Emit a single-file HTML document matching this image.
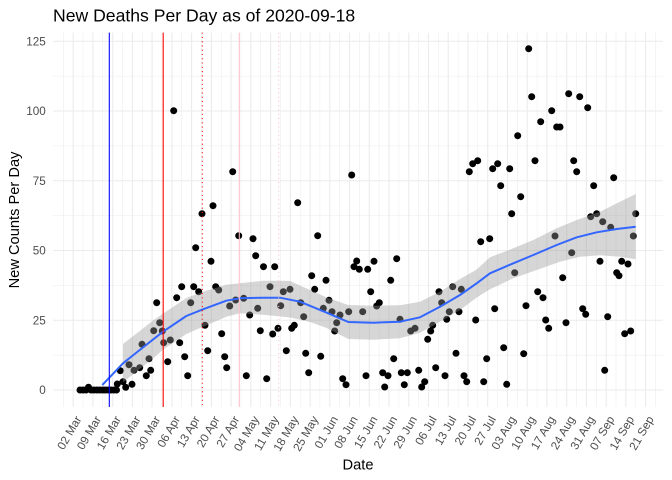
<!DOCTYPE html>
<html><head><meta charset="utf-8"><style>
html,body{margin:0;padding:0;background:#fff;}
svg{display:block;font-family:"Liberation Sans",Arial,sans-serif;}
</style></head><body>
<svg width="672" height="480" viewBox="0 0 672 480" xmlns="http://www.w3.org/2000/svg">
<rect width="672" height="480" fill="#fff"/>
<text x="53" y="21.7" font-size="17.6" fill="#000">New Deaths Per Day as of 2020-09-18</text>
<g stroke="#EBEBEB" stroke-width="0.53">
<line x1="53" x2="663" y1="355.1" y2="355.1"/><line x1="53" x2="663" y1="285.4" y2="285.4"/><line x1="53" x2="663" y1="215.6" y2="215.6"/><line x1="53" x2="663" y1="145.9" y2="145.9"/><line x1="53" x2="663" y1="76.1" y2="76.1"/>
<line x1="63.3" x2="63.3" y1="32.6" y2="407"/><line x1="83" x2="83" y1="32.6" y2="407"/><line x1="102.8" x2="102.8" y1="32.6" y2="407"/><line x1="122.5" x2="122.5" y1="32.6" y2="407"/><line x1="142.3" x2="142.3" y1="32.6" y2="407"/><line x1="162" x2="162" y1="32.6" y2="407"/><line x1="181.7" x2="181.7" y1="32.6" y2="407"/><line x1="201.5" x2="201.5" y1="32.6" y2="407"/><line x1="221.2" x2="221.2" y1="32.6" y2="407"/><line x1="241" x2="241" y1="32.6" y2="407"/><line x1="260.7" x2="260.7" y1="32.6" y2="407"/><line x1="280.4" x2="280.4" y1="32.6" y2="407"/><line x1="300.2" x2="300.2" y1="32.6" y2="407"/><line x1="319.9" x2="319.9" y1="32.6" y2="407"/><line x1="339.7" x2="339.7" y1="32.6" y2="407"/><line x1="359.4" x2="359.4" y1="32.6" y2="407"/><line x1="379.1" x2="379.1" y1="32.6" y2="407"/><line x1="398.9" x2="398.9" y1="32.6" y2="407"/><line x1="418.6" x2="418.6" y1="32.6" y2="407"/><line x1="438.4" x2="438.4" y1="32.6" y2="407"/><line x1="458.1" x2="458.1" y1="32.6" y2="407"/><line x1="477.8" x2="477.8" y1="32.6" y2="407"/><line x1="497.6" x2="497.6" y1="32.6" y2="407"/><line x1="517.3" x2="517.3" y1="32.6" y2="407"/><line x1="537.1" x2="537.1" y1="32.6" y2="407"/><line x1="556.8" x2="556.8" y1="32.6" y2="407"/><line x1="576.5" x2="576.5" y1="32.6" y2="407"/><line x1="596.3" x2="596.3" y1="32.6" y2="407"/><line x1="616" x2="616" y1="32.6" y2="407"/><line x1="635.8" x2="635.8" y1="32.6" y2="407"/><line x1="655.5" x2="655.5" y1="32.6" y2="407"/>
</g>
<g stroke="#EBEBEB" stroke-width="1.07">
<line x1="53" x2="663" y1="390" y2="390"/><line x1="53" x2="663" y1="320.25" y2="320.25"/><line x1="53" x2="663" y1="250.5" y2="250.5"/><line x1="53" x2="663" y1="180.75" y2="180.75"/><line x1="53" x2="663" y1="111" y2="111"/><line x1="53" x2="663" y1="41.25" y2="41.25"/>
<line x1="73.2" x2="73.2" y1="32.6" y2="407"/><line x1="92.9" x2="92.9" y1="32.6" y2="407"/><line x1="112.7" x2="112.7" y1="32.6" y2="407"/><line x1="132.4" x2="132.4" y1="32.6" y2="407"/><line x1="152.1" x2="152.1" y1="32.6" y2="407"/><line x1="171.9" x2="171.9" y1="32.6" y2="407"/><line x1="191.6" x2="191.6" y1="32.6" y2="407"/><line x1="211.4" x2="211.4" y1="32.6" y2="407"/><line x1="231.1" x2="231.1" y1="32.6" y2="407"/><line x1="250.8" x2="250.8" y1="32.6" y2="407"/><line x1="270.6" x2="270.6" y1="32.6" y2="407"/><line x1="290.3" x2="290.3" y1="32.6" y2="407"/><line x1="310.1" x2="310.1" y1="32.6" y2="407"/><line x1="329.8" x2="329.8" y1="32.6" y2="407"/><line x1="349.5" x2="349.5" y1="32.6" y2="407"/><line x1="369.3" x2="369.3" y1="32.6" y2="407"/><line x1="389" x2="389" y1="32.6" y2="407"/><line x1="408.8" x2="408.8" y1="32.6" y2="407"/><line x1="428.5" x2="428.5" y1="32.6" y2="407"/><line x1="448.2" x2="448.2" y1="32.6" y2="407"/><line x1="468" x2="468" y1="32.6" y2="407"/><line x1="487.7" x2="487.7" y1="32.6" y2="407"/><line x1="507.5" x2="507.5" y1="32.6" y2="407"/><line x1="527.2" x2="527.2" y1="32.6" y2="407"/><line x1="546.9" x2="546.9" y1="32.6" y2="407"/><line x1="566.7" x2="566.7" y1="32.6" y2="407"/><line x1="586.4" x2="586.4" y1="32.6" y2="407"/><line x1="606.2" x2="606.2" y1="32.6" y2="407"/><line x1="625.9" x2="625.9" y1="32.6" y2="407"/><line x1="645.6" x2="645.6" y1="32.6" y2="407"/>
</g>
<g fill="#000">
<circle cx="80" cy="390" r="3.5"/><circle cx="83" cy="390" r="3.5"/><circle cx="86" cy="390" r="3.5"/><circle cx="88.5" cy="387.2" r="3.5"/><circle cx="91" cy="390" r="3.5"/><circle cx="94" cy="390" r="3.5"/><circle cx="97" cy="390" r="3.5"/><circle cx="100" cy="390" r="3.5"/><circle cx="103" cy="390" r="3.5"/><circle cx="105.5" cy="390" r="3.5"/><circle cx="108.5" cy="390" r="3.5"/><circle cx="111" cy="390" r="3.5"/><circle cx="114" cy="390" r="3.5"/><circle cx="116.5" cy="390" r="3.5"/>
<circle cx="173.7" cy="110.7" r="3.5"/><circle cx="232.7" cy="171.7" r="3.5"/><circle cx="213" cy="205.7" r="3.5"/><circle cx="202" cy="213.7" r="3.5"/><circle cx="238.7" cy="235.7" r="3.5"/><circle cx="253" cy="238.7" r="3.5"/><circle cx="195.7" cy="247.7" r="3.5"/><circle cx="255.7" cy="255.7" r="3.5"/><circle cx="211" cy="261.3" r="3.5"/><circle cx="263.5" cy="266.7" r="3.5"/><circle cx="181.7" cy="286.7" r="3.5"/><circle cx="193.7" cy="286.7" r="3.5"/><circle cx="215.7" cy="286.7" r="3.5"/><circle cx="198.7" cy="291.7" r="3.5"/><circle cx="218.7" cy="290" r="3.5"/><circle cx="176.7" cy="297.7" r="3.5"/><circle cx="156.7" cy="302.7" r="3.5"/><circle cx="190.7" cy="302.7" r="3.5"/><circle cx="235.7" cy="300" r="3.5"/><circle cx="243.7" cy="298.3" r="3.5"/><circle cx="229.7" cy="306" r="3.5"/><circle cx="257.7" cy="308.3" r="3.5"/><circle cx="249.7" cy="315" r="3.5"/><circle cx="159.7" cy="322.7" r="3.5"/><circle cx="205" cy="325.3" r="3.5"/><circle cx="153.7" cy="330.7" r="3.5"/><circle cx="162.3" cy="331" r="3.5"/><circle cx="260.3" cy="330.7" r="3.5"/><circle cx="221.7" cy="333.7" r="3.5"/><circle cx="163.7" cy="342.7" r="3.5"/><circle cx="170.3" cy="340" r="3.5"/><circle cx="179.7" cy="342.7" r="3.5"/><circle cx="142" cy="344.3" r="3.5"/><circle cx="207.7" cy="350.7" r="3.5"/><circle cx="184.7" cy="356.7" r="3.5"/><circle cx="224.7" cy="356.7" r="3.5"/><circle cx="149" cy="358.7" r="3.5"/><circle cx="167.7" cy="361.7" r="3.5"/><circle cx="129" cy="364.7" r="3.5"/><circle cx="226.7" cy="367.7" r="3.5"/><circle cx="139.7" cy="367.7" r="3.5"/><circle cx="134" cy="370.3" r="3.5"/><circle cx="120.3" cy="370.7" r="3.5"/><circle cx="150.7" cy="370.3" r="3.5"/><circle cx="146.3" cy="375.7" r="3.5"/><circle cx="187.7" cy="375.7" r="3.5"/><circle cx="246.3" cy="375.7" r="3.5"/><circle cx="123" cy="381.7" r="3.5"/><circle cx="132" cy="384.3" r="3.5"/><circle cx="117.3" cy="384" r="3.5"/><circle cx="125.7" cy="387.3" r="3.5"/>
<circle cx="274.7" cy="266.7" r="3.5"/><circle cx="351.7" cy="175" r="3.5"/><circle cx="297.7" cy="202.7" r="3.5"/><circle cx="317.7" cy="235.7" r="3.5"/><circle cx="469.3" cy="171.7" r="3.5"/><circle cx="396.7" cy="258.7" r="3.5"/><circle cx="356.7" cy="261" r="3.5"/><circle cx="354" cy="266.7" r="3.5"/><circle cx="374" cy="261.3" r="3.5"/><circle cx="359.3" cy="269.3" r="3.5"/><circle cx="367.7" cy="269.3" r="3.5"/><circle cx="311.7" cy="275.7" r="3.5"/><circle cx="326" cy="280.3" r="3.5"/><circle cx="390.7" cy="280.3" r="3.5"/><circle cx="270" cy="286.7" r="3.5"/><circle cx="314.7" cy="289.3" r="3.5"/><circle cx="283.3" cy="291.7" r="3.5"/><circle cx="290" cy="289.3" r="3.5"/><circle cx="370.7" cy="291.7" r="3.5"/><circle cx="452.7" cy="286.7" r="3.5"/><circle cx="461.3" cy="289.3" r="3.5"/><circle cx="439" cy="291.7" r="3.5"/><circle cx="280.7" cy="305.7" r="3.5"/><circle cx="300.7" cy="302.7" r="3.5"/><circle cx="329" cy="300.3" r="3.5"/><circle cx="323.3" cy="308.3" r="3.5"/><circle cx="332" cy="311.7" r="3.5"/><circle cx="340" cy="315" r="3.5"/><circle cx="348.7" cy="311.7" r="3.5"/><circle cx="362.7" cy="311.7" r="3.5"/><circle cx="376.7" cy="306" r="3.5"/><circle cx="379.3" cy="302.7" r="3.5"/><circle cx="441.7" cy="302.7" r="3.5"/><circle cx="449.3" cy="311.7" r="3.5"/><circle cx="459" cy="311.7" r="3.5"/><circle cx="303.7" cy="316.7" r="3.5"/><circle cx="336.7" cy="322.7" r="3.5"/><circle cx="400" cy="319.3" r="3.5"/><circle cx="446.7" cy="319.3" r="3.5"/><circle cx="432.7" cy="325.3" r="3.5"/><circle cx="415" cy="328.3" r="3.5"/><circle cx="410.7" cy="331" r="3.5"/><circle cx="430.7" cy="331" r="3.5"/><circle cx="334.7" cy="331" r="3.5"/><circle cx="294.3" cy="325.3" r="3.5"/><circle cx="291.7" cy="328.3" r="3.5"/><circle cx="278" cy="328.3" r="3.5"/><circle cx="272.7" cy="334" r="3.5"/><circle cx="427.7" cy="339.3" r="3.5"/><circle cx="286.3" cy="350.7" r="3.5"/><circle cx="305.7" cy="353.3" r="3.5"/><circle cx="320.7" cy="356.3" r="3.5"/><circle cx="456" cy="353.3" r="3.5"/><circle cx="393.7" cy="358.7" r="3.5"/><circle cx="435.7" cy="367.7" r="3.5"/><circle cx="418.7" cy="370.3" r="3.5"/><circle cx="308.7" cy="372.7" r="3.5"/><circle cx="382.7" cy="372.7" r="3.5"/><circle cx="401.3" cy="372.7" r="3.5"/><circle cx="407.3" cy="372.7" r="3.5"/><circle cx="266.7" cy="378.7" r="3.5"/><circle cx="342.7" cy="378.7" r="3.5"/><circle cx="366" cy="375.7" r="3.5"/><circle cx="388" cy="375.7" r="3.5"/><circle cx="445" cy="375.7" r="3.5"/><circle cx="464" cy="375.7" r="3.5"/><circle cx="346" cy="384.7" r="3.5"/><circle cx="384.7" cy="387" r="3.5"/><circle cx="404.3" cy="384.7" r="3.5"/><circle cx="424.7" cy="381.7" r="3.5"/><circle cx="421.7" cy="387" r="3.5"/><circle cx="466.7" cy="381.7" r="3.5"/>
<circle cx="528.7" cy="48.7" r="3.5"/><circle cx="531.7" cy="96.7" r="3.5"/><circle cx="568.7" cy="93.7" r="3.5"/><circle cx="579.7" cy="96.7" r="3.5"/><circle cx="587.7" cy="107.7" r="3.5"/><circle cx="551.7" cy="110.7" r="3.5"/><circle cx="540.7" cy="121.7" r="3.5"/><circle cx="556.7" cy="127" r="3.5"/><circle cx="560" cy="127" r="3.5"/><circle cx="517.7" cy="135.7" r="3.5"/><circle cx="535" cy="160.7" r="3.5"/><circle cx="573.7" cy="160.7" r="3.5"/><circle cx="576.7" cy="171.7" r="3.5"/><circle cx="472.7" cy="163.7" r="3.5"/><circle cx="477.7" cy="160.7" r="3.5"/><circle cx="492.7" cy="168.7" r="3.5"/><circle cx="497.7" cy="163.7" r="3.5"/><circle cx="509.7" cy="168.7" r="3.5"/><circle cx="500.7" cy="185.7" r="3.5"/><circle cx="593.7" cy="185.7" r="3.5"/><circle cx="613.7" cy="177.7" r="3.5"/><circle cx="520.7" cy="196.7" r="3.5"/><circle cx="511.7" cy="213.7" r="3.5"/><circle cx="590.7" cy="216.7" r="3.5"/><circle cx="596.7" cy="213.7" r="3.5"/><circle cx="602.7" cy="221.7" r="3.5"/><circle cx="610.7" cy="227.3" r="3.5"/><circle cx="635.7" cy="213.7" r="3.5"/><circle cx="633.3" cy="236" r="3.5"/><circle cx="555" cy="236" r="3.5"/><circle cx="480.7" cy="241.7" r="3.5"/><circle cx="489.7" cy="238.7" r="3.5"/><circle cx="571.7" cy="252.7" r="3.5"/><circle cx="600" cy="261.3" r="3.5"/><circle cx="621.7" cy="261.3" r="3.5"/><circle cx="628" cy="264" r="3.5"/><circle cx="616.7" cy="272.7" r="3.5"/><circle cx="619" cy="275.7" r="3.5"/><circle cx="514.7" cy="272.7" r="3.5"/><circle cx="562.7" cy="277.7" r="3.5"/><circle cx="537.7" cy="291.7" r="3.5"/><circle cx="543" cy="297.7" r="3.5"/><circle cx="526" cy="305.7" r="3.5"/><circle cx="494.7" cy="308.7" r="3.5"/><circle cx="582.7" cy="308.7" r="3.5"/><circle cx="585.7" cy="314.3" r="3.5"/><circle cx="607.7" cy="316.7" r="3.5"/><circle cx="475.7" cy="320" r="3.5"/><circle cx="545.7" cy="320" r="3.5"/><circle cx="566" cy="322.7" r="3.5"/><circle cx="548.7" cy="328.3" r="3.5"/><circle cx="624.7" cy="333.7" r="3.5"/><circle cx="630.7" cy="331" r="3.5"/><circle cx="503.7" cy="347.7" r="3.5"/><circle cx="523.7" cy="353.7" r="3.5"/><circle cx="486.7" cy="358.7" r="3.5"/><circle cx="604.7" cy="370.3" r="3.5"/><circle cx="483.7" cy="381.7" r="3.5"/><circle cx="506.7" cy="384.3" r="3.5"/>
</g>
<polygon fill="#999999" fill-opacity="0.4" points="123,344 139.7,331 153,320.5 163,313.7 186.3,298 203,291.8 226.3,284.7 239.7,283.3 263,280.7 280,280.7 290,281 303.3,287 326.7,297.5 348.3,305 373.3,305.7 400,305.2 420,301.8 440,291.7 460,279 476.7,269.5 490,257.3 513.3,248.3 533.3,240 556.7,228.3 576.7,220 600,211.7 620,201.7 635.7,194 635.7,259.3 620,256.7 600,255.3 580,256.7 560,261.7 536.7,270 513.3,278.3 490,289.3 476.7,297.5 460,310 440,321.7 420,332.8 400,338.2 373.3,339.7 348.3,339 326.7,328 310,322 290,317.5 263,314.7 239.7,313.3 226.3,316.7 203,326.8 186.3,334 163,349.7 153,358.5 139.7,369 123,382.5"/>
<polyline fill="none" stroke="#3366FF" stroke-width="2" stroke-linejoin="round" points="102.3,385 123,363.3 139.7,350 163,331.7 186.3,316 203,309.3 226.3,300.7 239.7,298.3 263,297.7 280,297.7 300,301.7 326.7,312.7 348.3,322 373.3,322.7 400,321.7 420,317.3 440,306.7 460,295 476.7,283.3 490,273.3 513.3,263.3 533.3,255 556.7,245 576.7,237.3 596.7,232.3 616.7,229 635.7,226.7"/>
<line x1="109.3" x2="109.3" y1="32.6" y2="407" stroke="#0000FF" stroke-width="1.07"/>
<line x1="163.2" x2="163.2" y1="32.6" y2="407" stroke="#FF0000" stroke-width="1.07"/>
<line x1="202.3" x2="202.3" y1="32.6" y2="407" stroke="#FF0000" stroke-width="1.07" stroke-dasharray="1.07 3.2"/>
<line x1="239.3" x2="239.3" y1="32.6" y2="407" stroke="#FFC0CB" stroke-width="1.07"/>
<line x1="278.7" x2="278.7" y1="32.6" y2="407" stroke="#FFC0CB" stroke-width="1.07" stroke-dasharray="1.07 3.2"/>
<g font-size="11.7" fill="#4D4D4D" text-anchor="end">
<text x="45.8" y="394.2">0</text><text x="45.8" y="324.45">25</text><text x="45.8" y="254.7">50</text><text x="45.8" y="184.95">75</text><text x="45.8" y="115.2">100</text><text x="45.8" y="45.45">125</text>
<text transform="translate(73.2,414) rotate(-60)" y="9.9">02 Mar</text>
<text transform="translate(92.9,414) rotate(-60)" y="9.9">09 Mar</text>
<text transform="translate(112.7,414) rotate(-60)" y="9.9">16 Mar</text>
<text transform="translate(132.4,414) rotate(-60)" y="9.9">23 Mar</text>
<text transform="translate(152.1,414) rotate(-60)" y="9.9">30 Mar</text>
<text transform="translate(171.9,414) rotate(-60)" y="9.9">06 Apr</text>
<text transform="translate(191.6,414) rotate(-60)" y="9.9">13 Apr</text>
<text transform="translate(211.4,414) rotate(-60)" y="9.9">20 Apr</text>
<text transform="translate(231.1,414) rotate(-60)" y="9.9">27 Apr</text>
<text transform="translate(250.8,414) rotate(-60)" y="9.9">04 May</text>
<text transform="translate(270.6,414) rotate(-60)" y="9.9">11 May</text>
<text transform="translate(290.3,414) rotate(-60)" y="9.9">18 May</text>
<text transform="translate(310.1,414) rotate(-60)" y="9.9">25 May</text>
<text transform="translate(329.8,414) rotate(-60)" y="9.9">01 Jun</text>
<text transform="translate(349.5,414) rotate(-60)" y="9.9">08 Jun</text>
<text transform="translate(369.3,414) rotate(-60)" y="9.9">15 Jun</text>
<text transform="translate(389,414) rotate(-60)" y="9.9">22 Jun</text>
<text transform="translate(408.8,414) rotate(-60)" y="9.9">29 Jun</text>
<text transform="translate(428.5,414) rotate(-60)" y="9.9">06 Jul</text>
<text transform="translate(448.2,414) rotate(-60)" y="9.9">13 Jul</text>
<text transform="translate(468,414) rotate(-60)" y="9.9">20 Jul</text>
<text transform="translate(487.7,414) rotate(-60)" y="9.9">27 Jul</text>
<text transform="translate(507.5,414) rotate(-60)" y="9.9">03 Aug</text>
<text transform="translate(527.2,414) rotate(-60)" y="9.9">10 Aug</text>
<text transform="translate(546.9,414) rotate(-60)" y="9.9">17 Aug</text>
<text transform="translate(566.7,414) rotate(-60)" y="9.9">24 Aug</text>
<text transform="translate(586.4,414) rotate(-60)" y="9.9">31 Aug</text>
<text transform="translate(606.2,414) rotate(-60)" y="9.9">07 Sep</text>
<text transform="translate(625.9,414) rotate(-60)" y="9.9">14 Sep</text>
<text transform="translate(645.6,414) rotate(-60)" y="9.9">21 Sep</text>
</g>
<text x="358" y="469.5" font-size="14.67" fill="#000" text-anchor="middle">Date</text>
<text transform="translate(19,220) rotate(-90)" font-size="14.67" fill="#000" text-anchor="middle">New Counts Per Day</text>
</svg>
</body></html>
